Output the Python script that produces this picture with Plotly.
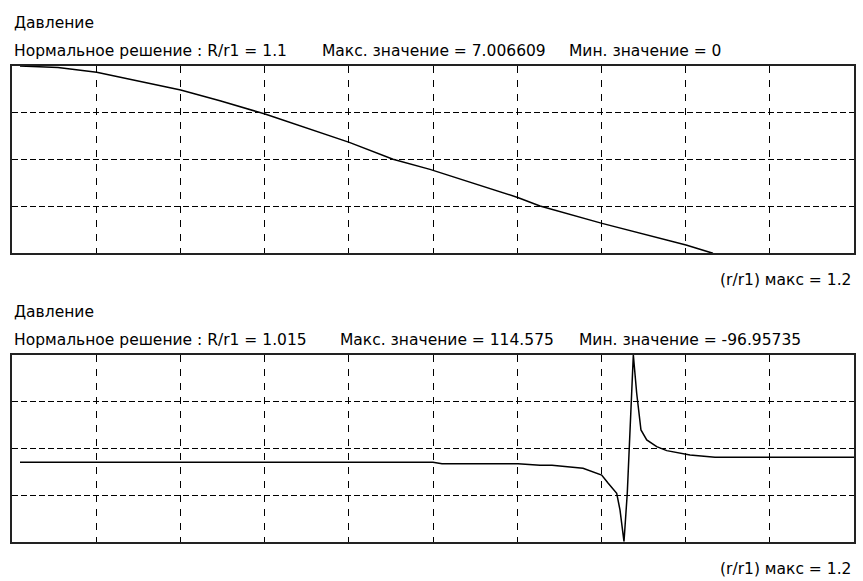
import plotly.graph_objects as go

# ---- data ----
top_x = [0.0114, 0.0656, 0.1207, 0.2404, 0.2964, 0.3606, 0.4807, 0.5430, 0.5957,
         0.7207, 0.7525, 0.8409, 0.9606, 0.9990]
top_y = [7.0066, 6.95, 6.77, 6.11, 5.71, 5.21, 4.15, 3.52, 3.14,
         2.09, 1.77, 1.12, 0.31, 0.0]

bot_x = [0.0114, 0.6, 0.6128, 0.7211, 0.7525, 0.7696, 0.8138, 0.8404, 0.8494, 0.8618,
         0.8665, 0.8722, 0.8769, 0.8798, 0.8855, 0.8903, 0.8964, 0.9046, 0.9188,
         0.9331, 0.9616, 0.9663, 1.0019, 1.2]
bot_y = [-7.0, -7.0, -8.6, -8.6, -10.4, -10.4, -13.8, -21.4, -30.4, -42.1,
         -61.0, -96.95735, -41.8, 8.9, 114.575, 71.2, 29.6, 18.3, 10.7,
         6.2, 2.1, 1.3, -1.3, -1.3]

top_range = [0.0, 7.006609]
bot_range = [-96.95735, 114.575]
x_range = [0.0, 1.2]

title = "Давление"
top_texts = ["Нормальное решение : R/r1 = 1.1", "Макс. значение = 7.006609", "Мин. значение = 0"]
bot_texts = ["Нормальное решение : R/r1 = 1.015", "Макс. значение = 114.575", "Мин. значение = -96.95735"]
xlabel = "(r/r1) макс = 1.2"

W, H = 863, 581
FONT = "DejaVu Sans, Verdana, sans-serif"
FS = 15.5

fig = go.Figure()
fig.add_trace(go.Scatter(x=top_x, y=top_y, mode="lines", line=dict(color="black", width=1.5),
                         xaxis="x", yaxis="y", showlegend=False, hoverinfo="skip"))
fig.add_trace(go.Scatter(x=bot_x, y=bot_y, mode="lines", line=dict(color="black", width=1.5),
                         xaxis="x2", yaxis="y2", showlegend=False, hoverinfo="skip"))

def px_x(p):
    return p / W

def px_y(p):
    return 1 - p / H

ax_common = dict(showline=True, mirror=True, linecolor="#222", linewidth=2,
                 showgrid=True, gridcolor="black", gridwidth=1,
                 showticklabels=False, ticks="", zeroline=False, fixedrange=True)
xgrid = dict(griddash="7px,7px")
ygrid = dict(griddash="6px,3px")

fig.update_layout(
    width=W, height=H,
    margin=dict(l=0, r=0, t=0, b=0),
    paper_bgcolor="white", plot_bgcolor="white",
    xaxis=dict(domain=[px_x(12), px_x(854)], range=x_range, dtick=0.12, anchor="y", **ax_common, **xgrid),
    yaxis=dict(domain=[px_y(253.3), px_y(66)], range=top_range, dtick=top_range[1] / 4,
               anchor="x", **ax_common, **ygrid),
    xaxis2=dict(domain=[px_x(12), px_x(854)], range=x_range, dtick=0.12, anchor="y2", **ax_common, **xgrid),
    yaxis2=dict(domain=[px_y(541.7), px_y(355)], range=bot_range,
                tick0=bot_range[0], dtick=(bot_range[1] - bot_range[0]) / 4,
                anchor="x2", **ax_common, **ygrid),
    font=dict(family=FONT, size=FS, color="black"),
)

def text(x, y, s, anchor="left"):
    fig.add_annotation(x=px_x(x), y=px_y(y), xref="paper", yref="paper", text=s,
                       showarrow=False, xanchor=anchor, yanchor="middle",
                       font=dict(family=FONT, size=FS, color="black"))

for off, texts, xs in [(0, top_texts, [12, 320, 567]), (289, bot_texts, [12, 338, 577])]:
    text(12, 23 + off, title)
    for s, x in zip(texts, xs):
        text(x, 51 + off, s)
    text(853, 280 + off, xlabel, anchor="right")

fig.write_html("out.html", config={"displayModeBar": False},
               post_script="document.body.style.margin='0';")
